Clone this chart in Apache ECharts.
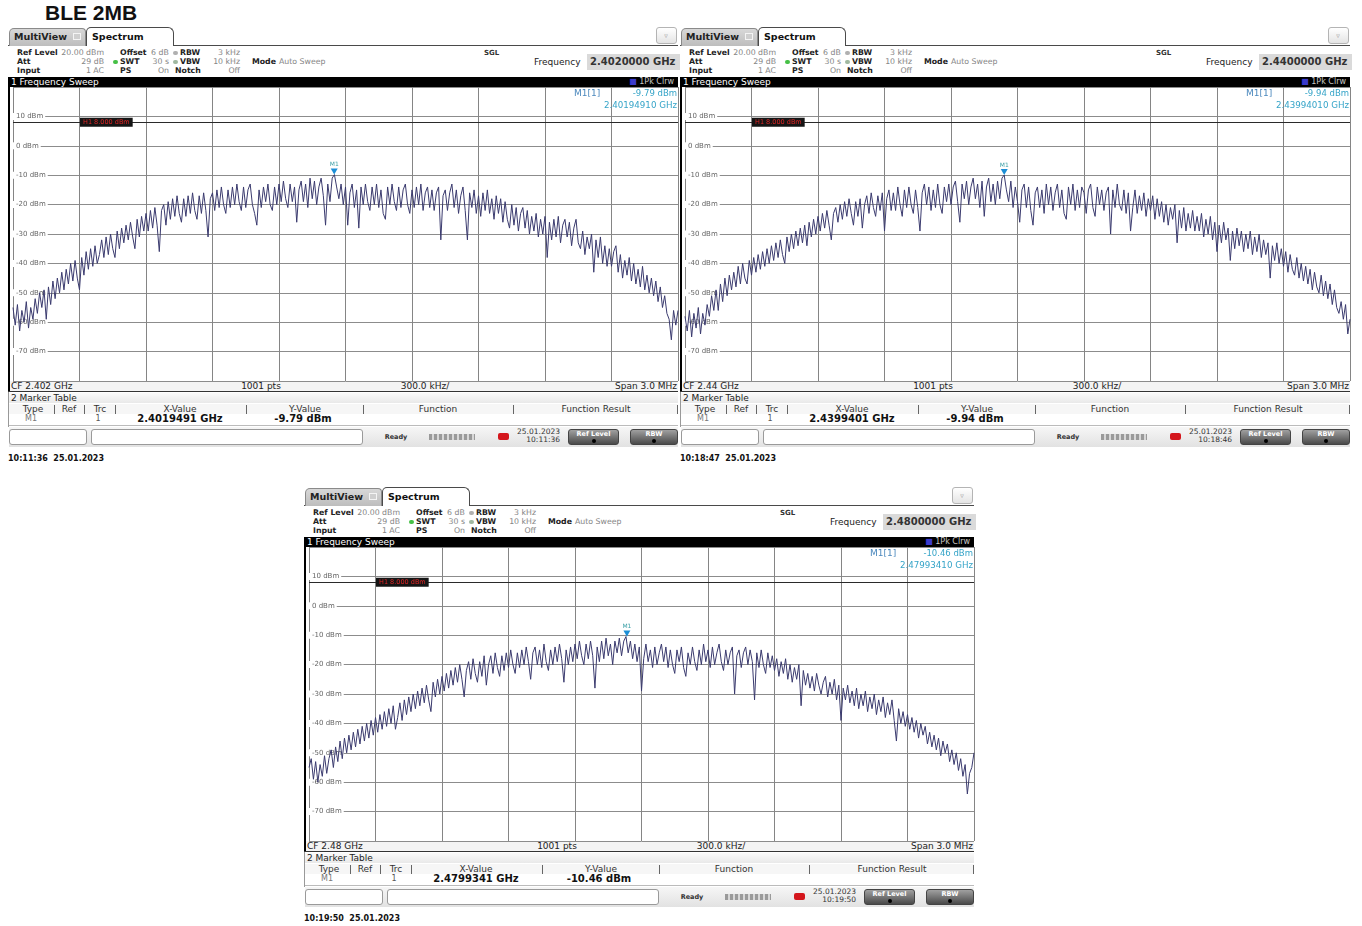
<!doctype html>
<html>
<head>
<meta charset="utf-8">
<title>BLE 2MB</title>
<script src="https://cdn.jsdelivr.net/npm/echarts@6.0.0/dist/echarts.min.js"></script>
<style>
  body { margin: 0; background: #fff; }
  #page { position: relative; width: 1362px; height: 926px; overflow: hidden; font-family: 'DejaVu Sans', sans-serif; color: #222; }
  .a { position: absolute; white-space: nowrap; }
  #title { left: 45px; top: 1px; font: bold 21px 'Liberation Sans', Arial, sans-serif; color: #111; }
</style>
</head>
<body>
<div id="page"><div id="title" class="a">BLE 2MB</div></div>

<script type="text/javascript">
// sweep settings (same for the three screenshots)
var centerFreqs = [2.402, 2.44, 2.48];      // GHz
var spanKHz = 3000;
var sweepPts = 1001;
var refLevel = 20;
var bottomLevel = -80;
var displayLine = 8;                        // H1 line, dBm
// marker M1
var markerFreqs = [2.4019491, 2.4399401, 2.4799341];
var markerLevels = [-9.79, -9.94, -10.46];
// time stamps
var sweepDate = '25.01.2023';
var statusTimes = ['10:11:36', '10:18:46', '10:19:50'];
var shotTimes = ['10:11:36', '10:18:47', '10:19:50'];

// traces in dBm, 10 kHz apart over the span
var trace1 = [
  -55,-61,-54,-63,-56,-60,-53,-62,-55,-59,
  -52,-57,-50,-55,-49,-59,-48,-54,-46,-52,
  -45,-50,-43,-49,-42,-47,-40,-46,-39,-45,
  -49,-38,-44,-36,-42,-35,-41,-34,-40,-37,
  -32,-38,-31,-37,-30,-35,-38,-29,-35,-28,
  -33,-27,-32,-26,-31,-35,-25,-31,-24,-29,
  -23,-29,-22,-28,-21,-27,-36,-22,-20,-27,
  -19,-25,-18,-24,-17,-23,-26,-18,-24,-17,
  -23,-16,-22,-25,-17,-23,-16,-22,-31,-18,
  -16,-22,-15,-21,-14,-20,-23,-15,-21,-14,
  -20,-13,-19,-22,-14,-21,-15,-13,-20,-23,
  -27,-15,-21,-14,-19,-13,-20,-22,-14,-20,
  -13,-19,-12,-18,-21,-13,-19,-14,-26,-15,
  -12,-19,-13,-21,-11,-18,-12,-20,-14,-11,
  -17,-27,-13,-19,-11,-9.79,-14,-18,-13,-20,
  -14,-27,-16,-13,-21,-15,-28,-14,-20,-13,
  -19,-22,-14,-20,-13,-21,-15,-23,-25,-14,
  -20,-13,-19,-22,-14,-21,-15,-13,-20,-23,
  -15,-21,-14,-20,-13,-22,-16,-14,-21,-15,
  -22,-16,-14,-32,-17,-15,-22,-16,-13,-21,
  -15,-23,-17,-14,-22,-32,-16,-21,-15,-23,
  -17,-24,-16,-22,-15,-23,-18,-25,-17,-23,
  -18,-26,-19,-25,-28,-20,-27,-21,-29,-23,
  -21,-28,-22,-30,-24,-29,-23,-31,-25,-30,
  -24,-38,-26,-32,-25,-31,-24,-33,-27,-25,
  -31,-26,-34,-28,-25,-33,-35,-29,-37,-31,
  -35,-30,-43,-32,-38,-31,-40,-34,-41,-35,
  -41,-36,-34,-43,-37,-45,-39,-44,-38,-46,
  -40,-47,-42,-48,-41,-49,-44,-50,-45,-51,
  -46,-53,-48,-55,-51,-57,-59,-66,-56,-61,
  -56
];
var trace2 = [
  -58,-63,-56,-65,-57,-62,-55,-64,-57,-61,
  -54,-58,-51,-56,-49,-56,-47,-53,-45,-51,
  -44,-49,-43,-48,-41,-47,-40,-45,-47,-39,
  -44,-38,-43,-37,-42,-36,-41,-35,-40,-34,
  -39,-33,-38,-32,-37,-40,-31,-36,-30,-35,
  -29,-34,-28,-33,-27,-34,-26,-31,-25,-30,
  -24,-29,-23,-28,-22,-27,-32,-23,-21,-26,
  -20,-25,-19,-24,-18,-23,-27,-19,-24,-18,
  -28,-20,-17,-23,-16,-21,-24,-17,-22,-16,
  -29,-18,-15,-22,-16,-22,-14,-20,-24,-15,
  -21,-14,-20,-23,-15,-21,-29,-16,-13,-20,
  -14,-22,-15,-21,-13,-20,-23,-14,-19,-13,
  -20,-14,-12,-19,-26,-13,-18,-12,-20,-14,
  -11,-18,-13,-21,-12,-24,-14,-11,-19,-13,
  -20,-12,-18,-11,-9.94,-15,-19,-12,-21,-14,
  -19,-26,-15,-13,-21,-14,-22,-27,-16,-14,
  -21,-15,-23,-13,-20,-14,-22,-16,-13,-21,
  -15,-23,-25,-14,-20,-13,-22,-15,-21,-14,
  -16,-23,-15,-13,-21,-24,-14,-20,-15,-22,
  -16,-14,-30,-15,-21,-13,-20,-22,-15,-23,
  -16,-29,-21,-15,-23,-17,-22,-16,-24,-18,
  -22,-17,-25,-18,-24,-19,-26,-20,-27,-21,
  -25,-20,-33,-22,-28,-21,-29,-23,-28,-22,
  -29,-24,-29,-23,-31,-25,-30,-24,-32,-26,
  -36,-27,-33,-26,-32,-28,-39,-29,-35,-28,
  -34,-29,-36,-30,-35,-29,-37,-31,-36,-30,
  -38,-32,-37,-33,-45,-34,-39,-33,-40,-35,
  -41,-36,-43,-37,-42,-44,-38,-45,-40,-46,
  -41,-47,-42,-49,-43,-48,-50,-44,-51,-46,
  -52,-47,-54,-49,-55,-57,-53,-59,-54,-64,
  -59
];
var trace3 = [
  -55,-52,-59,-53,-60,-54,-58,-51,-57,-52,
  -49,-55,-48,-53,-46,-52,-45,-50,-44,-49,
  -43,-48,-42,-47,-41,-46,-40,-45,-39,-44,
  -38,-43,-37,-42,-36,-41,-35,-40,-34,-42,
  -38,-33,-39,-32,-37,-31,-36,-30,-35,-29,
  -34,-28,-33,-27,-32,-36,-26,-31,-25,-30,
  -24,-29,-23,-28,-22,-27,-21,-26,-20,-25,
  -31,-22,-19,-25,-18,-23,-26,-19,-24,-17,
  -27,-20,-17,-23,-16,-21,-24,-17,-22,-16,
  -21,-15,-20,-23,-16,-21,-15,-20,-14,-19,
  -25,-16,-14,-20,-15,-21,-13,-19,-22,-15,
  -20,-14,-19,-13,-18,-26,-15,-20,-14,-19,
  -13,-18,-12,-17,-20,-13,-18,-12,-17,-28,
  -14,-19,-12,-18,-11,-17,-13,-20,-12,-16,
  -11,-17,-12,-10.46,-16,-12,-18,-13,-19,-14,
  -29,-18,-13,-19,-15,-21,-14,-20,-16,-13,
  -19,-14,-21,-15,-20,-23,-15,-19,-14,-21,
  -24,-16,-20,-14,-19,-22,-15,-20,-13,-19,
  -15,-21,-14,-20,-16,-13,-19,-22,-15,-20,
  -16,-14,-30,-17,-15,-21,-16,-14,-20,-15,
  -19,-32,-16,-21,-15,-20,-23,-16,-21,-17,
  -22,-18,-24,-19,-23,-18,-25,-20,-26,-21,
  -25,-20,-34,-22,-27,-23,-28,-24,-29,-23,
  -27,-30,-26,-24,-31,-26,-30,-25,-32,-27,
  -39,-28,-32,-27,-33,-29,-34,-28,-35,-30,
  -34,-29,-36,-31,-35,-30,-37,-32,-36,-31,
  -38,-33,-37,-32,-39,-46,-35,-40,-36,-41,
  -37,-42,-38,-43,-39,-45,-40,-44,-41,-47,
  -43,-48,-44,-49,-45,-51,-46,-50,-47,-53,
  -49,-54,-50,-56,-52,-58,-54,-64,-57,-55,
  -50
];
var traces = [trace1, trace2, trace3];

// where each analyzer screenshot sits on the page
var panelPos = [[8, 27], [680, 27], [304, 487]];

var page = document.getElementById('page');

// instrument screen around the plot (tabs, settings, marker table, status bar)
function buildPanel(k) {
    var ox = panelPos[k][0], oy = panelPos[k][1], h = '';
    function box(x, y, w, hh, s) {
        h += '<div class="a" style="left:' + (ox + x) + 'px;top:' + (oy + y) + 'px;width:' + w + 'px;height:' + hh + 'px;' + (s || '') + '"></div>';
    }
    function txt(x, cy, t, s, align) {
        var lh = 12, left = ox + x, w = '';
        if (align === 'r') { left = ox + x - 200; w = 'width:200px;text-align:right;'; }
        if (align === 'c') { left = ox + x - 100; w = 'width:200px;text-align:center;'; }
        h += '<div class="a" style="left:' + left + 'px;top:' + (oy + cy - lh / 2) + 'px;line-height:' + lh + 'px;' + w + (s || '') + '">' + t + '</div>';
    }
    function dot(x, cy, c) { box(x - 2, cy - 2, 5, 4, 'background:' + c + ';border-radius:2px'); }

    var B = 'font-weight:bold;font-size:7.8px;color:#222;';
    var V = 'font-size:7.8px;color:#858585;';
    var S9 = 'font-size:9px;color:#222;';

    // tabs
    box(0, 18, 670, 1, 'background:#4a4a4a');
    box(1, 1, 77, 18, 'background:linear-gradient(#d8d8d8,#bdbdbd);border:1px solid #8a8a8a;border-bottom:0;border-radius:5px 4px 0 0;box-sizing:border-box');
    txt(6, 10, 'MultiView', 'font-weight:bold;font-size:9.5px;color:#222');
    box(65, 6, 8, 7, 'border:1px solid #f4f4f4;box-sizing:border-box;background:#cfcfcf');
    box(78, 0, 88, 19, 'background:#fff;border:1px solid #4a4a4a;border-bottom:0;border-radius:5px 6px 0 0;box-sizing:border-box');
    txt(84, 10, 'Spectrum', 'font-weight:bold;font-size:9.5px;color:#111');
    box(648, 0, 21, 17, 'border:1px solid #b4b4b4;border-radius:3px;background:linear-gradient(#fff,#e4e4e4);box-sizing:border-box');
    txt(658, 9, '&#9663;', 'font-size:7px;color:#999', 'c');

    // settings
    txt(9, 26, 'Ref Level', B); txt(96, 26, refLevel.toFixed(2) + ' dBm', V, 'r');
    txt(112, 26, 'Offset', B); txt(143, 26, '6 dB', V); dot(167, 26, '#b0b0b0');
    txt(172, 26, 'RBW', B); txt(232, 26, '3 kHz', V, 'r');
    txt(9, 35, 'Att', B); txt(96, 35, '29 dB', V, 'r'); dot(107, 35, '#46c046');
    txt(112, 35, 'SWT', B); txt(161, 35, '30 s', V, 'r'); dot(167, 35, '#a0b8a0');
    txt(172, 35, 'VBW', B); txt(232, 35, '10 kHz', V, 'r');
    txt(244, 35, 'Mode', B); txt(271, 35, 'Auto Sweep', V);
    txt(9, 44, 'Input', B); txt(96, 44, '1 AC', V, 'r');
    txt(112, 44, 'PS', B); txt(161, 44, 'On', V, 'r');
    txt(167, 44, 'Notch', B); txt(232, 44, 'Off', V, 'r');
    txt(476, 26, 'SGL', 'font-weight:bold;font-size:7px;color:#333');
    txt(526, 35, 'Frequency', 'font-size:9px;color:#222');
    box(579, 27, 93, 16, 'background:#dadada');
    txt(582, 35, centerFreqs[k].toFixed(7) + ' GHz', 'font-weight:bold;font-size:10px;color:#333');

    // trace title bar and frame
    box(1, 50, 669, 10, 'background:#000');
    txt(3, 55, '1 Frequency Sweep', 'font-size:9px;color:#fff');
    txt(666, 55, '<span style="color:#3a3acc">&#9632;</span> 1Pk Clrw', 'font-size:8px;color:#c8c8c8', 'r');
    box(0, 50, 2, 315, 'background:#000');

    // marker readout in the plot
    txt(566, 66, 'M1[1]', 'font-size:9px;color:#4b88bd;z-index:5');
    txt(669, 66, markerLevels[k].toFixed(2) + ' dBm', 'font-size:8.5px;color:#35a4c8;z-index:5', 'r');
    txt(669, 78, markerFreqs[k].toFixed(8) + ' GHz', 'font-size:8.7px;color:#35a4c8;z-index:5', 'r');

    // footer of the diagram
    box(2, 354, 668, 10, 'background:#f4f4f4');
    box(0, 364, 670, 1, 'background:#333');
    txt(3, 359, 'CF ' + centerFreqs[k] + ' GHz', S9);
    txt(253, 359, sweepPts + ' pts', S9, 'c');
    txt(417, 359, (spanKHz / 10).toFixed(1) + ' kHz/', S9, 'c');
    txt(669, 359, 'Span ' + (spanKHz / 1000).toFixed(1) + ' MHz', S9, 'r');

    // marker table
    box(0, 365, 1, 35, 'background:#999');
    box(1, 366, 669, 10, 'background:linear-gradient(#fafafa,#e9e9e9)');
    txt(3, 371, '2 Marker Table', S9);
    box(1, 377, 669, 10, 'background:#f6f6f6');
    var heads = [['Type', 25], ['Ref', 61], ['Trc', 92], ['X-Value', 172], ['Y-Value', 297], ['Function', 430], ['Function Result', 588]];
    heads.forEach(function (hd) { txt(hd[1], 382, hd[0], S9 + 'color:#333', 'c'); });
    [46, 76, 107, 238, 355, 505, 669].forEach(function (x) { box(x, 378, 1, 9, 'background:#666'); });
    txt(23, 392, 'M1', 'font-size:8px;color:#777', 'c');
    txt(90, 392, '1', 'font-size:8px;color:#555', 'c');
    txt(172, 392, markerFreqs[k].toFixed(7) + ' GHz', 'font-weight:bold;font-size:10px;color:#111', 'c');
    txt(295, 392, markerLevels[k].toFixed(2) + ' dBm', 'font-weight:bold;font-size:10px;color:#111', 'c');
    box(1, 398, 669, 1, 'background:#bbb');

    // status bar
    box(1, 400, 669, 20, 'background:linear-gradient(#f6f6f6,#e2e2e2)');
    box(1, 402, 78, 16, 'background:#fff;border:1px solid #9a9a9a;border-radius:3px;box-sizing:border-box');
    box(83, 402, 272, 16, 'background:#fff;border:1px solid #9a9a9a;border-radius:3px;box-sizing:border-box');
    txt(388, 410, 'Ready', 'font-weight:bold;font-size:6.5px;color:#333', 'c');
    box(421, 407, 46, 6, 'background:repeating-linear-gradient(90deg,#9a9a9a 0 3px,#d8d8d8 3px 5px)');
    box(490, 406, 11, 7, 'background:#d4161c;border-radius:2px');
    txt(552, 405, sweepDate, 'font-size:7.5px;color:#333', 'r');
    txt(552, 413, statusTimes[k], 'font-size:7.5px;color:#333', 'r');
    [[560, 51, 'Ref Level'], [622, 48, 'RBW']].forEach(function (b) {
        box(b[0], 402, b[1], 16, 'background:linear-gradient(#a0a0a0,#4a4a4a);border-radius:3px;border:1px solid #444;box-sizing:border-box');
        txt(b[0] + b[1] / 2, 406.5, b[2], 'font-weight:bold;font-size:6.5px;color:#fff', 'c');
        box(b[0] + b[1] / 2 - 2, 412, 4, 4, 'background:#000;border-radius:2px');
    });

    // screenshot time stamp
    txt(0, 432, shotTimes[k] + '&nbsp;&nbsp;' + sweepDate, 'font-weight:bold;font-size:8px;color:#111');
    return h;
}

function chartOption(k) {
    var tr = traces[k];
    var pts = tr.map(function (v, i) {
        return [-spanKHz / 2 + spanKHz * i / (tr.length - 1), v];
    });
    var mx = (markerFreqs[k] - centerFreqs[k]) * 1e6;   // kHz from CF
    return {
        animation: false,
        textStyle: { fontFamily: 'DejaVu Sans' },
        grid: { left: 0, right: 1, top: 0, bottom: 1 },
        xAxis: {
            type: 'value', min: -spanKHz / 2, max: spanKHz / 2, interval: spanKHz / 10,
            axisLine: { show: false }, axisTick: { show: false }, axisLabel: { show: false },
            splitLine: { show: true, lineStyle: { color: '#858585', width: 1 } }
        },
        yAxis: {
            type: 'value', min: bottomLevel, max: refLevel, interval: 10,
            axisLine: { show: false }, axisTick: { show: false },
            splitLine: { show: true, lineStyle: { color: '#8c8c8c', width: 1 } },
            axisLabel: {
                inside: true, margin: 0, showMinLabel: false, showMaxLabel: false,
                formatter: '{value} dBm', fontSize: 7, color: '#666',
                backgroundColor: '#fff', padding: [0, 2, 0, 3]
            }
        },
        series: [{
            type: 'line',
            data: pts,
            showSymbol: false,
            symbol: 'none',
            silent: true,
            lineStyle: { color: '#3a3a6e', width: 1 },
            markLine: {
                silent: true,
                symbol: ['none', 'none'],
                label: { show: false },
                lineStyle: { color: '#2a2a2a', width: 1, type: 'solid' },
                data: [{ yAxis: displayLine }]
            },
            markPoint: {
                silent: true,
                data: [
                    {
                        coord: [mx, markerLevels[k]],
                        symbol: 'triangle', symbolRotate: 180, symbolSize: [7, 6], symbolOffset: [0, -3],
                        itemStyle: { color: '#1d8fd6' },
                        label: { show: true, position: 'top', distance: 1, formatter: 'M1', fontSize: 6, color: '#3a9fa6' }
                    },
                    {
                        coord: [-spanKHz / 2 + spanKHz / 10, displayLine],
                        symbol: 'rect', symbolSize: 1, itemStyle: { color: 'rgba(0,0,0,0)' },
                        label: {
                            show: true, position: 'right', distance: 0,
                            formatter: 'H1 ' + displayLine.toFixed(3) + ' dBm',
                            backgroundColor: '#151515', color: '#e02424', fontSize: 6.5, padding: [1, 3]
                        }
                    }
                ]
            }
        }]
    };
}

var html = '';
for (var k = 0; k < 3; k++) html += buildPanel(k);
page.insertAdjacentHTML('beforeend', html);

for (var k = 0; k < 3; k++) {
    var div = document.createElement('div');
    div.className = 'a';
    div.style.left = (panelPos[k][0] + 2) + 'px';
    div.style.top = (panelPos[k][1] + 60) + 'px';
    div.style.width = '669px';
    div.style.height = '295px';
    page.appendChild(div);
    var myChart = echarts.init(div);
    myChart.setOption(chartOption(k));
}
</script>
</body>
</html>
